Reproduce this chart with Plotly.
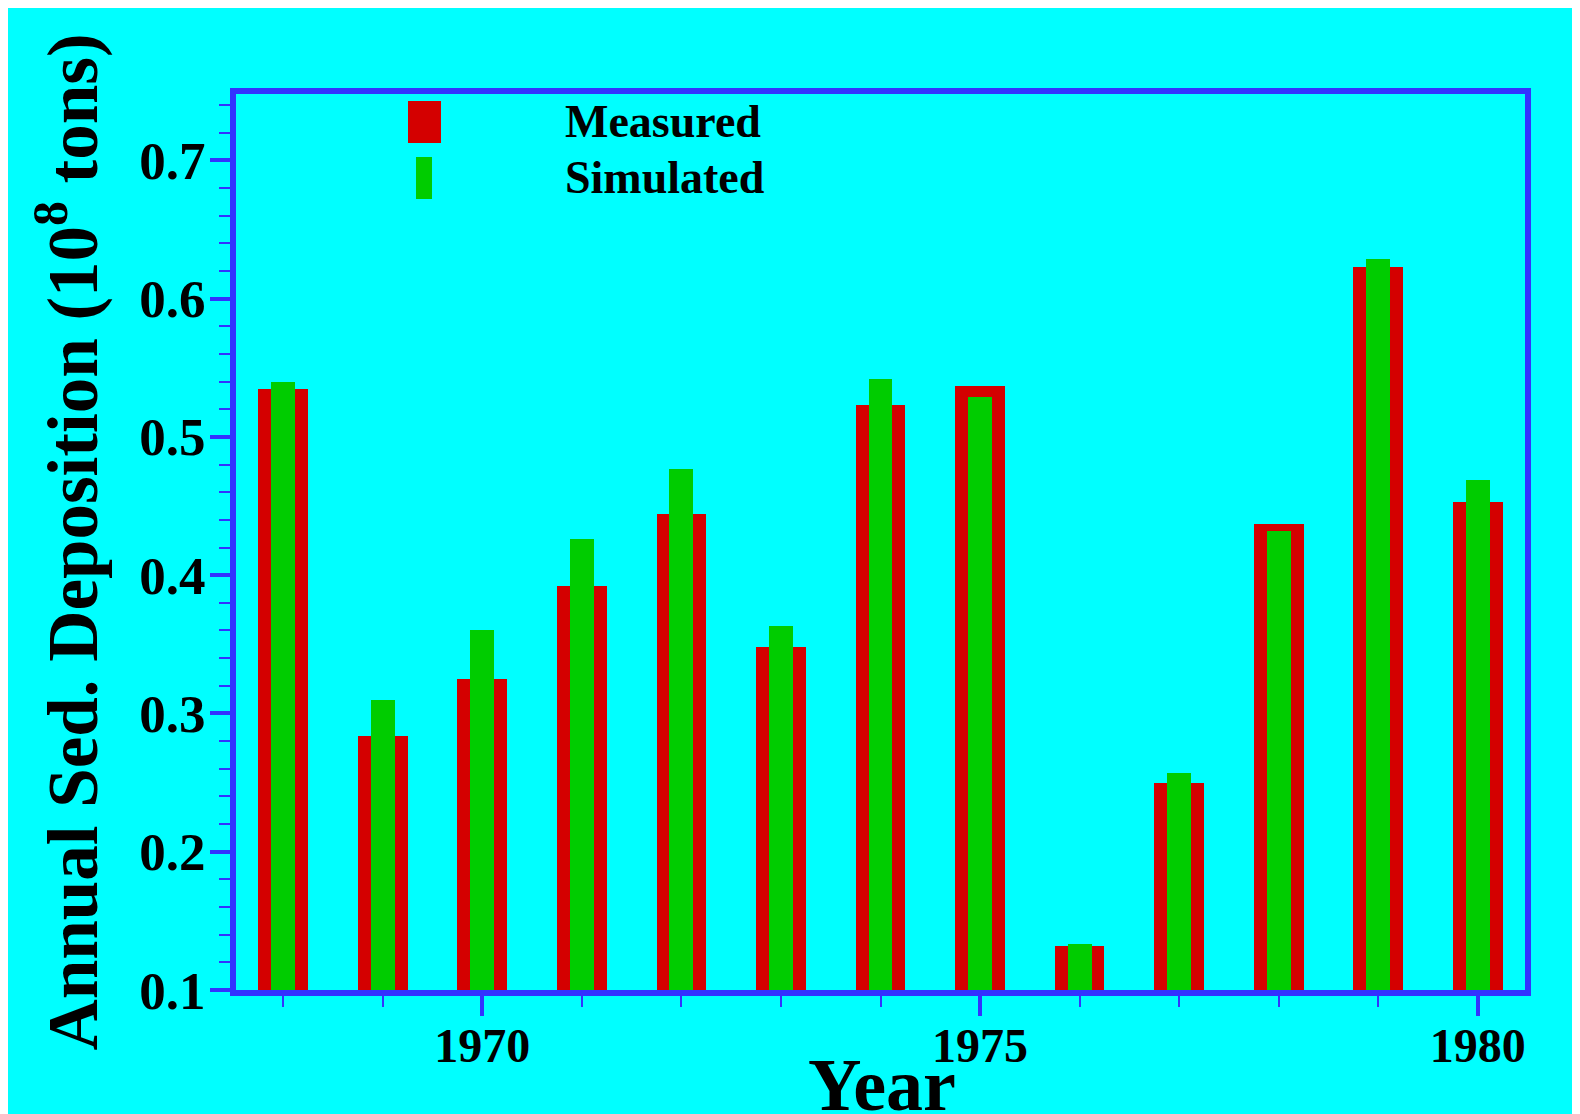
import plotly.graph_objects as go

years = [1968, 1969, 1970, 1971, 1972, 1973, 1974, 1975, 1976, 1977, 1978, 1979, 1980]
measured = [0.535, 0.284, 0.325, 0.392, 0.444, 0.348, 0.523, 0.537, 0.132, 0.250, 0.437, 0.623, 0.453]
simulated = [0.540, 0.310, 0.360, 0.426, 0.477, 0.363, 0.542, 0.529, 0.133, 0.257, 0.432, 0.629, 0.469]

y_ticks = [0.1, 0.2, 0.3, 0.4, 0.5, 0.6, 0.7]
x_ticks = [1970, 1975, 1980]

RED = "#D40000"
GREEN = "#00CC00"
CYAN = "#00FFFF"
BLUE = "#3333FF"
FONT = "Liberation Serif"

# page has an 8px body margin; positions below are figure pixels
W, H = 1580, 1114
ML, MR, MT, MB = 228, 63, 86, 132
PW = W - ML - MR
PH = H - MT - MB
OFF = 8  # body margin


def px_x(p):  # page pixel -> paper
    return (p - OFF - ML) / PW


def px_y(p):
    return (H - MB - (p - OFF)) / PH


fig = go.Figure()
fig.add_trace(go.Bar(x=years, y=measured, width=0.5, name="Measured",
                     marker=dict(color=RED, line=dict(width=0)), showlegend=False))
fig.add_trace(go.Bar(x=years, y=simulated, width=0.24, name="Simulated",
                     marker=dict(color=GREEN, line=dict(width=0)), showlegend=False))

shapes = [
    dict(type="rect", xref="paper", yref="paper",
         x0=px_x(408), x1=px_x(441), y0=px_y(143), y1=px_y(101),
         fillcolor=RED, line=dict(width=0)),
    dict(type="rect", xref="paper", yref="paper",
         x0=px_x(416), x1=px_x(432), y0=px_y(199), y1=px_y(157),
         fillcolor=GREEN, line=dict(width=0)),
]

annotations = [
    dict(text="Measured", xref="paper", yref="paper", x=px_x(563), y=px_y(121),
         xanchor="left", yanchor="middle", showarrow=False,
         font=dict(family=FONT, size=46, color="black", weight="bold")),
    dict(text="Simulated", xref="paper", yref="paper", x=px_x(563), y=px_y(177),
         xanchor="left", yanchor="middle", showarrow=False,
         font=dict(family=FONT, size=46, color="black", weight="bold")),
    dict(text="Year", xref="paper", yref="paper", x=px_x(882), y=px_y(1085),
         xanchor="center", yanchor="middle", showarrow=False,
         font=dict(family=FONT, size=74, color="black", weight="bold")),
]

fig.update_layout(
    width=W, height=H,
    margin=dict(l=ML, r=MR, t=MT, b=MB, pad=0),
    paper_bgcolor=CYAN,
    plot_bgcolor=CYAN,
    barmode="overlay",
    bargap=0,
    shapes=shapes,
    annotations=annotations,
    font=dict(family=FONT, color="black"),
)

fig.update_xaxes(
    range=[1967.525, 1980.475],
    tickmode="array", tickvals=x_ticks, ticktext=[str(v) for v in x_ticks],
    ticks="outside", ticklen=20, tickwidth=4, tickcolor=BLUE,
    minor=dict(dtick=1, tick0=1968, ticks="outside", ticklen=11, tickwidth=2, tickcolor=BLUE),
    showline=True, linecolor=BLUE, linewidth=6, mirror=True,
    showgrid=False, zeroline=False,
    tickfont=dict(family=FONT, size=48, color="black", weight="bold"),
    ticklabelstandoff=-12,
    automargin=False,
)

fig.update_yaxes(
    range=[0.1, 0.748],
    tickmode="array", tickvals=y_ticks, ticktext=[f"{v:.1f}" for v in y_ticks],
    ticks="outside", ticklen=20, tickwidth=4, tickcolor=BLUE,
    minor=dict(dtick=0.02, tick0=0.1, ticks="outside", ticklen=11, tickwidth=2, tickcolor=BLUE),
    showline=True, linecolor=BLUE, linewidth=6, mirror=True,
    showgrid=False, zeroline=False,
    tickfont=dict(family=FONT, size=53, color="black", weight="bold"),
    ticklabelstandoff=-6,
    title=dict(text="Annual Sed. Deposition (10<sup>8</sup> tons)", standoff=20,
               font=dict(family=FONT, size=71, color="black", weight="bold")),
    automargin=False,
)

fig.write_html("out.html")
